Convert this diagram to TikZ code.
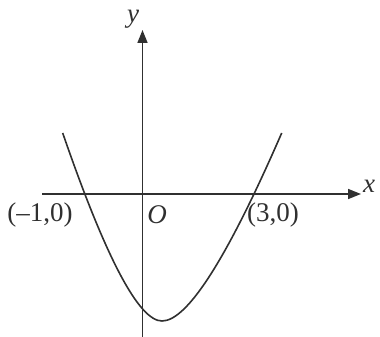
\documentclass[tikz,border=0pt]{standalone}
\usepackage{fontspec}
\setmainfont{Liberation Serif}
\usetikzlibrary{arrows.meta}
\definecolor{ink}{HTML}{303030}
\tikzset{
  axis/.style={draw=ink,line width=1.6pt,-{Triangle[length=13pt,width=10pt]}},
  curve/.style={draw=ink,line width=1.6pt},
  lbl/.style={text=ink,font=\fontsize{27}{30}\selectfont,inner sep=0pt},
  ilbl/.style={lbl,font=\fontsize{27}{30}\selectfont\itshape}
}
\begin{document}
\begin{tikzpicture}[x=1pt,y=-1pt]
\useasboundingbox (0,0) rectangle (380,337);
\coordinate (xs) at (42,194);
\coordinate (xe) at (361,194);
\coordinate (ys) at (142.5,337);
\coordinate (ye) at (142.5,30);
\draw[axis] (xs) -- (xe);
\draw[axis] (ys) -- (ye);
\coordinate (cl) at (62.7,133);
\coordinate (cv) at (162,321);
\coordinate (cr) at (281.7,133);
\draw[curve] (cl) .. controls (105.9,258.3) and (139,321) .. (cv)
                  .. controls (187.3,321) and (227.2,258.3) .. (cr);
\node[ilbl] (ylab) at (133,19) {y};
\node[ilbl] (xlab) at (369,186) {x};
\node[lbl] (m1) at (40,215) {(–1,0)};
\node[ilbl] (o) at (157,215) {O};
\node[lbl] (p3) at (273,215) {(3,0)};
\end{tikzpicture}
\end{document}
